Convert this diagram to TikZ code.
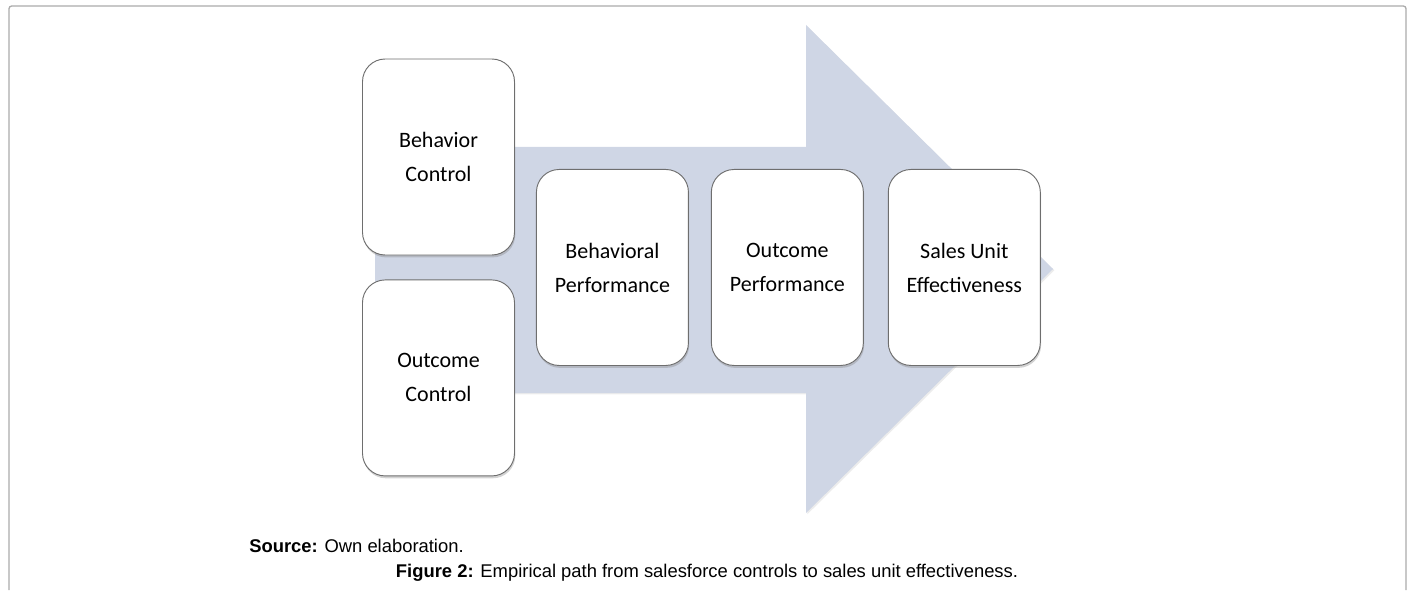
\documentclass[tikz,border=0pt]{standalone}
\usepackage{fontspec}
\setmainfont{Liberation Sans}
\newfontfamily\calibri{Carlito}
\usepackage{tikz}
\usetikzlibrary{positioning,shadows}

\definecolor{bandblue}{HTML}{CFD6E5}
\definecolor{boxline}{HTML}{6E6E6E}
\definecolor{frameline}{HTML}{ABABAB}

\begin{document}
\begin{tikzpicture}[
    x = 0.75pt,
    y = 0.75pt,
    box/.style={
        draw = boxline,
        fill = white,
        line width = 0.7pt,
        rounded corners = 17pt,
        minimum width = 114pt,
        minimum height = 147pt,
        align = center,
        font = \calibri\fontsize{16.5}{25.5}\selectfont,
        drop shadow={opacity=0.35, shadow xshift=0.6pt, shadow yshift=-1.8pt}
    },
    band/.style={
        fill = bandblue,
        drop shadow={opacity=0.15, shadow xshift=1pt, shadow yshift=-1pt}
    },
    frame/.style={
        draw = frameline,
        line width = 1pt,
        rounded corners = 2pt
    },
    caption/.style={
        font = \fontsize{13.8}{16}\selectfont
    }
]

\useasboundingbox (0,0) rectangle (1413,590);

% page frame
\draw[frame] (9,0) -- (9,584) -- (1406,584) -- (1406,0);

% big arrow behind the boxes
\fill[band] (375,443) -- (806,443) -- (806,565) -- (1053,321)
    -- (806,77) -- (806,197) -- (375,197) -- cycle;

% controls
\node[box] (bc) at (438.5,433) {Behavior\\Control};
\node[box, below=18pt of bc] (oc) {Outcome\\Control};

% path
\coordinate[below=9pt of bc.south east] (mid);
\node[box, right=15.75pt of mid] (bp) {Behavioral\\Performance};
\node[box, right=16.5pt of bp] (op) {Outcome\\Performance};
\node[box, right=18pt of op] (su) {Sales Unit\\Effectiveness};

% captions
\node[caption, anchor=base west, inner sep=0] (src) at (249,38)
    {\textbf{Source:} Own elaboration.};
\node[caption, anchor=base, inner sep=0] (fig) at (707,13)
    {\textbf{Figure 2:} Empirical path from salesforce controls to sales unit effectiveness.};

\end{tikzpicture}
\end{document}
